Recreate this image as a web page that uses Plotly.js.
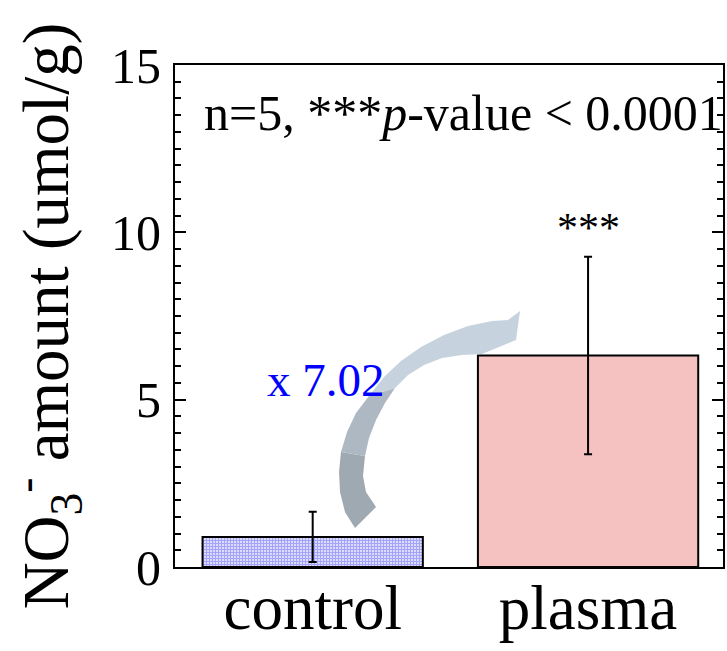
<!DOCTYPE html>
<html>
<head>
<meta charset="utf-8">
<script src="https://cdn.plot.ly/plotly-3.0.1.min.js"></script>
<style>html,body{margin:0;padding:0;background:#fff;}#chart{width:727px;height:651px;}</style>
</head>
<body>
<div id="chart"></div>
<script>
// ---- data ----
var categories = ['control', 'plasma'];
var meanValues = [0.9, 6.32];
var errorValues = [0.75, 2.95];
var yTickValues = [0, 5, 10, 15];
var yTickLabels = ['0', '5', '10', '15'];
var foldLabel = 'x 7.02';
var sigLabel = '***';
var noteLabel = 'n=5, ***<i>p</i>-value < 0.0001';

// ---- styling ----
var serif = 'Liberation Serif, Times New Roman, serif';
var plotL = 175, plotR = 723, plotT = 65, plotB = 567;
function px(xp, yp) {
  var xx = (xp - plotL) / (plotR - plotL);
  var yy = (plotB - yp) / (plotB - plotT);
  return xx.toFixed(4) + ',' + yy.toFixed(4);
}
function poly(pts) {
  var s = 'M ' + px(pts[0][0], pts[0][1]);
  for (var i = 1; i < pts.length; i++) s += ' L ' + px(pts[i][0], pts[i][1]);
  return s + ' Z';
}

var traces = [
  {
    type: 'bar', x: [categories[0]], y: [meanValues[0]], width: 0.8,
    marker: {
      color: '#dcdcfa',
      pattern: {shape: '+', size: 3, solidity: 0.55, fgcolor: '#6b6bff', bgcolor: '#dcdcfa', fillmode: 'overlay'},
      line: {color: '#000', width: 2}
    },
    error_y: {type: 'data', array: [errorValues[0]], visible: true, color: '#000', thickness: 2, width: 4},
    hoverinfo: 'none', showlegend: false
  },
  {
    type: 'bar', x: [categories[1]], y: [meanValues[1]], width: 0.8,
    marker: {color: '#f5c1c1', line: {color: '#000', width: 2}},
    error_y: {type: 'data', array: [errorValues[1]], visible: true, color: '#000', thickness: 2, width: 4},
    hoverinfo: 'none', showlegend: false
  }
];

// curved arrow (decoration only), pixel outline converted to paper coords
var arrowLow = poly([[355,528],[345,512],[340,492],[339,472],[341,452],
                     [365,456],[363,476],[366,492],[376,507]]);
var arrowMid = poly([[341,452],[347,432],[356,413],[369,396],
                     [395,388],[385,403],[376,420],[369,438],[365,456]]);
var arrowTop = poly([[369,396],[384,377],[401,361],[421,347],[444,335],[468,326],[492,321],[508,320],
                     [520,311],[516,340],[482,354],
                     [462,355],[442,358],[424,365],[408,375],[395,388]]);

var layout = {
  width: 727, height: 651,
  margin: {l: plotL, r: 727 - plotR, t: plotT, b: 651 - plotB, pad: 0},
  paper_bgcolor: '#fff', plot_bgcolor: '#fff',
  barmode: 'overlay',
  font: {family: serif, color: '#000'},
  xaxis: {
    type: 'category', range: [-0.5, 1.49],
    showline: true, linecolor: '#000', linewidth: 2, mirror: true,
    ticks: '', showgrid: false, zeroline: false,
    tickfont: {family: serif, size: 63, color: '#000'},
    ticklabelstandoff: -16
  },
  yaxis: {
    range: [0, 15], tickvals: yTickValues, ticktext: yTickLabels,
    showline: true, linecolor: '#000', linewidth: 2, mirror: 'ticks',
    ticks: 'inside', ticklen: 11, tickwidth: 2, tickcolor: '#000',
    minor: {dtick: 0.5, ticks: 'inside', ticklen: 6, tickwidth: 2, tickcolor: '#000', showgrid: false},
    showgrid: false, zeroline: false,
    tickfont: {family: serif, size: 50, color: '#000'},
    ticklabelstandoff: 2,
    title: {text: 'NO<sub>3</sub><sup>-</sup> amount (umol/g)', font: {family: serif, size: 65, color: '#000'}, standoff: 26},
    automargin: false
  },
  shapes: [
    {type: 'path', xref: 'paper', yref: 'paper', path: arrowLow, fillcolor: '#9fa9b1', line: {width: 0}, layer: 'above'},
    {type: 'path', xref: 'paper', yref: 'paper', path: arrowMid, fillcolor: '#aeb8c2', line: {width: 0}, layer: 'above'},
    {type: 'path', xref: 'paper', yref: 'paper', path: arrowTop, fillcolor: '#c6d2de', line: {width: 0}, layer: 'above'}
  ],
  annotations: [
    {xref: 'paper', yref: 'paper', x: 0.05, y: 0.904, xanchor: 'left', yanchor: 'middle',
     text: noteLabel, showarrow: false, font: {family: serif, size: 50, color: '#000'}},
    {xref: 'x', yref: 'y', x: 1, y: meanValues[1] + errorValues[1], xanchor: 'center', yanchor: 'bottom', yshift: 4,
     text: sigLabel, showarrow: false, font: {family: serif, size: 42, color: '#000'}},
    {xref: 'x', yref: 'y', x: 0.05, y: 5.6, xanchor: 'center', yanchor: 'middle',
     text: foldLabel, showarrow: false, font: {family: serif, size: 47, color: '#0000ff'}}
  ]
};

Plotly.newPlot('chart', traces, layout, {staticPlot: true, displayModeBar: false});
</script>
</body>
</html>
